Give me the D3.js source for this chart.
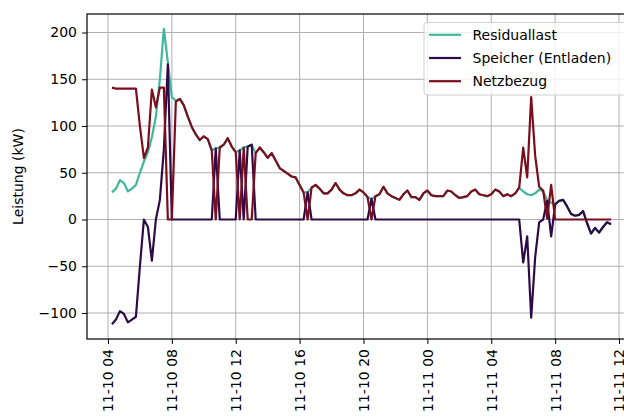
<!DOCTYPE html>
<html>
<head>
<meta charset="utf-8">
<script src="https://cdn.jsdelivr.net/npm/d3@7"></script>
<style>
  html, body { margin: 0; padding: 0; background: #fff; overflow: hidden; }
  text { font-family: "DejaVu Sans", sans-serif; }
</style>
</head>
<body>
<div id="container"></div>
<script>
/* CONSTANTS AND GLOBALS */
const width = 624;
const height = 417;
const margin = { top: 14, right: -12, bottom: 78, left: 87 };

/* DATA - 15 minute steps starting 2024-11-10 04:15 */
const startTime = new Date(2024, 10, 10, 4, 15);
const stepMinutes = 15;

const seriesNames = ["Residuallast", "Speicher (Entladen)", "Netzbezug"];
const seriesColors = ["#3fb79a", "#2e0b47", "#7c0d1c"];

const residuallast = [
  29, 33, 42, 39, 30, 33, 37, 50, 62, 72, 88, 110, 150, 204, 168, 131,
  127, 129, 122, 110, 99, 91, 85, 89, 86, 74, 76, 77, 80, 87, 78, 72,
  74, 77, 78, 80, 71, 77, 72, 66, 71, 63, 55, 52, 49, 46, 45, 37,
  29, 29, 34, 37, 33, 28, 28, 32, 39, 32, 28, 26, 26, 28, 32, 29,
  24, 22, 25, 27, 35, 28, 25, 23, 21, 27, 31, 24, 24, 21, 28, 31,
  26, 25, 25, 25, 31, 30, 26, 23, 24, 25, 30, 32, 27, 26, 25, 27,
  32, 30, 25, 27, 25, 28, 34, 30, 27, 26, 28, 32, 30, 21, 18, 16,
  20, 21, 14, 6, 4, 5, 9, -4, -15, -9, -14, -8, -3, -5
];

const speicher = [
  -112, -107, -98, -101, -110, -107, -104, -50, 0, -8, -44, 0, 21, 75, 166, 0,
  0, 0, 0, 0, 0, 0, 0, 0, 0, 0, 76, 0, 0, 0, 0, 0,
  74, 0, 78, 80, 0, 0, 0, 0, 0, 0, 0, 0, 0, 0, 0, 0,
  0, 29, 0, 0, 0, 0, 0, 0, 0, 0, 0, 0, 0, 0, 0, 0,
  0, 22, 0, 0, 0, 0, 0, 0, 0, 0, 0, 0, 0, 0, 0, 0,
  0, 0, 0, 0, 0, 0, 0, 0, 0, 0, 0, 0, 0, 0, 0, 0,
  0, 0, 0, 0, 0, 0, 0, -46, -18, -105, -40, -3, 0, 20, -18, 16,
  20, 21, 14, 6, 4, 5, 9, -4, -15, -9, -14, -8, -3, -5
];

const netzbezug = [
  141, 140, 140, 140, 140, 140, 140, 100, 66, 77, 139, 120, 141, 141, 0, 0,
  126, 129, 122, 110, 99, 91, 85, 89, 86, 74, 0, 77, 80, 87, 78, 72,
  0, 77, 0, 0, 71, 77, 72, 66, 71, 63, 55, 52, 49, 46, 45, 37,
  29, 0, 34, 37, 33, 28, 28, 32, 39, 32, 28, 26, 26, 28, 32, 29,
  24, 0, 25, 27, 35, 28, 25, 23, 21, 27, 31, 24, 24, 21, 28, 31,
  26, 25, 25, 25, 31, 30, 26, 23, 24, 25, 30, 32, 27, 26, 25, 27,
  32, 30, 25, 27, 25, 28, 34, 77, 45, 131, 68, 35, 31, 1, 37, 0,
  0, 0, 0, 0, 0, 0, 0, 0, 0, 0, 0, 0, 0, 0
];

const yTicks = [-100, -50, 0, 50, 100, 150, 200];

const times = residuallast.map((d, i) => new Date(startTime.getTime() + i * stepMinutes * 60000));
const allSeries = [residuallast, speicher, netzbezug];

/* SVG */
const svg = d3.select("#container").append("svg")
  .attr("width", width)
  .attr("height", height);

/* SCALES - 5% padding like matplotlib */
const tExtent = d3.extent(times);
const tPad = (tExtent[1] - tExtent[0]) * 0.05;
const xScale = d3.scaleTime()
  .domain([new Date(+tExtent[0] - tPad), new Date(+tExtent[1] + tPad)])
  .range([margin.left, width - margin.right]);

const vMin = d3.min(allSeries, s => d3.min(s));
const vMax = d3.max(allSeries, s => d3.max(s));
const vPad = (vMax - vMin) * 0.05;
const yScale = d3.scaleLinear()
  .domain([vMin - vPad, vMax + vPad])
  .range([height - margin.bottom, margin.top]);

const xTicks = xScale.ticks(d3.timeHour.every(4));
const fmtTime = d3.timeFormat("%m-%d %H");
const fmtY = d => d < 0 ? "\u2212" + Math.abs(d) : String(d);

/* GRID */
svg.append("g")
  .selectAll("line")
  .data(xTicks)
  .join("line")
  .attr("x1", d => xScale(d)).attr("x2", d => xScale(d))
  .attr("y1", margin.top).attr("y2", height - margin.bottom)
  .attr("stroke", "#b0b0b0").attr("stroke-width", 1);

svg.append("g")
  .selectAll("line")
  .data(yTicks)
  .join("line")
  .attr("x1", margin.left).attr("x2", width - margin.right)
  .attr("y1", d => yScale(d)).attr("y2", d => yScale(d))
  .attr("stroke", "#b0b0b0").attr("stroke-width", 1);

/* LINES */
const line = d3.line()
  .x((d, i) => xScale(times[i]))
  .y(d => yScale(d));

allSeries.forEach((s, k) => {
  svg.append("path")
    .datum(s)
    .attr("fill", "none")
    .attr("stroke", seriesColors[k])
    .attr("stroke-width", 2.2)
    .attr("stroke-linejoin", "round")
    .attr("d", line);
});

/* AXES */
const xAxis = d3.axisBottom(xScale)
  .tickValues(xTicks)
  .tickFormat(fmtTime)
  .tickSizeInner(5)
  .tickSizeOuter(0)
  .tickPadding(4);

const gx = svg.append("g")
  .attr("transform", `translate(0, ${height - margin.bottom})`)
  .call(xAxis);
gx.select(".domain").remove();
gx.selectAll("line").attr("stroke", "#000");
gx.selectAll("text")
  .attr("font-size", 14)
  .attr("fill", "#000")
  .attr("text-anchor", "end")
  .attr("dy", "0.35em")
  .attr("transform", "translate(0, 10) rotate(-90)")
  .attr("x", 0)
  .attr("y", 0);

const yAxis = d3.axisLeft(yScale)
  .tickValues(yTicks)
  .tickFormat(fmtY)
  .tickSizeInner(5)
  .tickSizeOuter(0)
  .tickPadding(5);

const gy = svg.append("g")
  .attr("transform", `translate(${margin.left}, 0)`)
  .call(yAxis);
gy.select(".domain").remove();
gy.selectAll("line").attr("stroke", "#000");
gy.selectAll("text").attr("font-size", 14).attr("fill", "#000");

/* SPINES */
svg.append("rect")
  .attr("x", margin.left)
  .attr("y", margin.top)
  .attr("width", width - margin.right - margin.left)
  .attr("height", height - margin.bottom - margin.top)
  .attr("fill", "none")
  .attr("stroke", "#000")
  .attr("stroke-width", 1.2);

/* Y LABEL */
svg.append("text")
  .attr("transform", `translate(23, ${(margin.top + height - margin.bottom) / 2}) rotate(-90)`)
  .attr("text-anchor", "middle")
  .attr("font-size", 14)
  .text("Leistung (kW)");

/* LEGEND */
const legend = svg.append("g").attr("transform", "translate(424, 22.5)");
legend.append("rect")
  .attr("width", 207)
  .attr("height", 72.5)
  .attr("rx", 3)
  .attr("fill", "#fff")
  .attr("fill-opacity", 0.8)
  .attr("stroke", "#d0d0d0");

seriesNames.forEach((name, k) => {
  const yy = 12.3 + k * 23.2;
  legend.append("line")
    .attr("x1", 5).attr("x2", 37)
    .attr("y1", yy).attr("y2", yy)
    .attr("stroke", seriesColors[k])
    .attr("stroke-width", 2.2);
  legend.append("text")
    .attr("x", 48.5)
    .attr("y", yy)
    .attr("dy", "0.36em")
    .attr("font-size", 14)
    .text(name);
});
</script>
</body>
</html>
